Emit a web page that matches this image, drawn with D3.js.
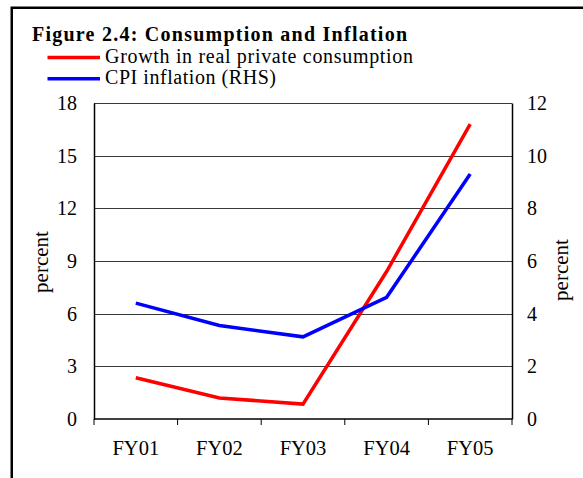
<!DOCTYPE html>
<html>
<head>
<meta charset="utf-8">
<script src="https://cdn.jsdelivr.net/npm/d3@7"></script>
<style>
  body { margin: 0; background: #fff; }
  svg { display: block; font-family: "Liberation Serif", "Times New Roman", serif; }
</style>
</head>
<body>
<div id="chart"></div>
<script>
const categories = ["FY01", "FY02", "FY03", "FY04", "FY05"];
const consumption = [2.35, 1.2, 0.85, 8.4, 16.8];   // left axis
const inflation = [4.4, 3.55, 3.12, 4.62, 9.3];     // right axis (RHS)
const leftTicks = [0, 3, 6, 9, 12, 15, 18];
const rightTicks = [0, 2, 4, 6, 8, 10, 12];

const width = 583, height = 478;
const plot = { left: 94, right: 512, top: 103, bottom: 419 };

const svg = d3.select("#chart")
  .append("svg")
  .attr("width", width)
  .attr("height", height);

// outer frame
svg.append("rect")
  .attr("x", 11.75).attr("y", 7.75)
  .attr("width", width + 10).attr("height", height + 10)
  .attr("fill", "none")
  .attr("stroke", "#000")
  .attr("stroke-width", 2.5);

svg.append("text")
  .attr("x", 32).attr("y", 41)
  .attr("textLength", 375)
  .attr("lengthAdjust", "spacing")
  .style("font-size", "20px")
  .style("font-weight", "bold")
  .text("Figure 2.4: Consumption and Inflation");

const legend = [
  { label: "Growth in real private consumption", color: "#ff0000", len: 308 },
  { label: "CPI inflation (RHS)", color: "#0000ff", len: 171 }
];
legend.forEach((d, i) => {
  const y = 57.5 + i * 21.3;
  svg.append("line")
    .attr("x1", 47.5).attr("x2", 100)
    .attr("y1", y).attr("y2", y)
    .attr("stroke", d.color)
    .attr("stroke-width", 3.5);
  svg.append("text")
    .attr("x", 105).attr("y", y + 5.5)
    .attr("textLength", d.len)
    .attr("lengthAdjust", "spacing")
    .style("font-size", "20px")
    .text(d.label);
});

const x = d3.scaleBand()
  .domain(categories)
  .range([plot.left, plot.right]);

const yL = d3.scaleLinear().domain([0, 18]).range([plot.bottom, plot.top]);
const yR = d3.scaleLinear().domain([0, 12]).range([plot.bottom, plot.top]);

// gridlines
svg.append("g")
  .selectAll("line")
  .data(leftTicks.slice(1))
  .enter()
  .append("line")
  .attr("x1", plot.left).attr("x2", plot.right)
  .attr("y1", d => Math.round(yL(d)) + 0.5)
  .attr("y2", d => Math.round(yL(d)) + 0.5)
  .attr("stroke", "#3a3a3a")
  .attr("stroke-width", 1);

// left axis
const leftAxis = svg.append("g")
  .attr("transform", `translate(${plot.left},0)`)
  .call(d3.axisLeft(yL).tickValues(leftTicks).tickSize(0).tickPadding(17));
leftAxis.select(".domain").attr("stroke", "#000").attr("stroke-width", 1.5);
leftAxis.selectAll("text")
  .style("font-size", "20px")
  .style("font-family", "Liberation Serif, serif")
  .attr("fill", "#000");

// right axis
const rightAxis = svg.append("g")
  .attr("transform", `translate(${plot.right},0)`)
  .call(d3.axisRight(yR).tickValues(rightTicks).tickSize(0).tickPadding(15));
rightAxis.select(".domain").attr("stroke", "#000").attr("stroke-width", 1.5);
rightAxis.selectAll("text")
  .style("font-size", "20px")
  .style("font-family", "Liberation Serif, serif")
  .attr("fill", "#000");

// bottom axis with ticks at band boundaries
const bottom = svg.append("g");
bottom.append("line")
  .attr("x1", plot.left).attr("x2", plot.right)
  .attr("y1", plot.bottom).attr("y2", plot.bottom)
  .attr("stroke", "#000").attr("stroke-width", 1.5);
bottom.selectAll(".tick")
  .data(categories.concat([null]))
  .enter()
  .append("line")
  .attr("x1", (d, i) => plot.left + i * x.step())
  .attr("x2", (d, i) => plot.left + i * x.step())
  .attr("y1", plot.bottom).attr("y2", plot.bottom + 6)
  .attr("stroke", "#000").attr("stroke-width", 1);
bottom.selectAll("text")
  .data(categories)
  .enter()
  .append("text")
  .attr("x", d => x(d) + x.bandwidth() / 2)
  .attr("y", 455)
  .attr("text-anchor", "middle")
  .style("font-size", "20.5px")
  .text(d => d);

// axis titles
svg.append("text")
  .attr("transform", "translate(48,262) rotate(-90)")
  .attr("text-anchor", "middle")
  .style("font-size", "21px")
  .text("percent");
svg.append("text")
  .attr("transform", "translate(568,270) rotate(-90)")
  .attr("text-anchor", "middle")
  .style("font-size", "21px")
  .text("percent");

const cx = d => x(d) + x.bandwidth() / 2;

svg.append("path")
  .datum(consumption)
  .attr("fill", "none")
  .attr("stroke", "#ff0000")
  .attr("stroke-width", 3.5)
  .attr("d", d3.line().x((d, i) => cx(categories[i])).y(d => yL(d)));

svg.append("path")
  .datum(inflation)
  .attr("fill", "none")
  .attr("stroke", "#0000ff")
  .attr("stroke-width", 3.5)
  .attr("d", d3.line().x((d, i) => cx(categories[i])).y(d => yR(d)));
</script>
</body>
</html>
